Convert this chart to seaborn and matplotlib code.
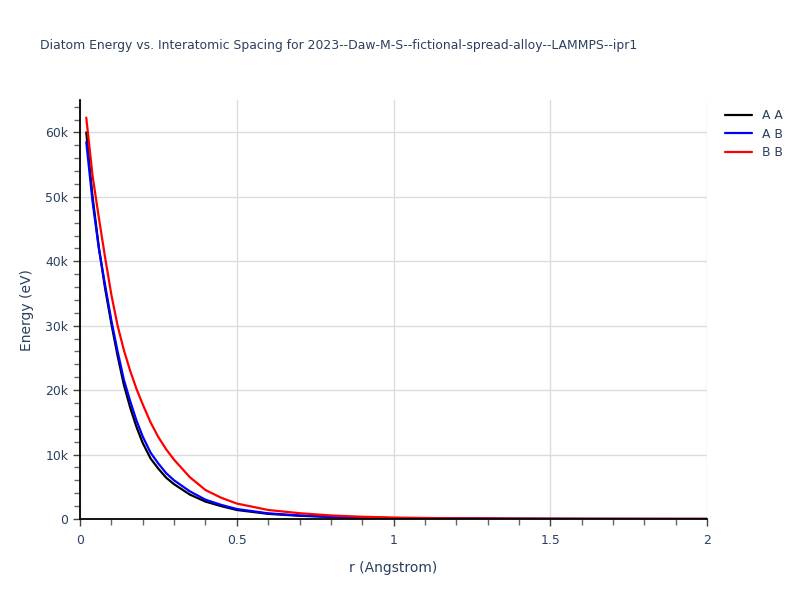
import seaborn as sns
import matplotlib.pyplot as plt
import pandas as pd
from matplotlib.ticker import FuncFormatter, MultipleLocator

# Distances (Angstrom) and pair energies (eV)
r = [0.02, 0.04, 0.06, 0.08, 0.10, 0.12, 0.14, 0.16, 0.18, 0.20, 0.225, 0.25,
     0.275, 0.30, 0.35, 0.40, 0.45, 0.50, 0.60, 0.70, 0.80, 0.90, 1.0, 1.2,
     1.4, 1.6, 1.8, 2.0]
energy_aa = [60000, 50000, 42200, 35800, 30300, 25300, 20800, 17300, 14300,
             11800, 9400, 7800, 6400, 5400, 3800, 2700, 2000, 1400, 800, 500,
             320, 200, 130, 60, 30, 15, 8, 5]
energy_ab = [58500, 49300, 42000, 36300, 30800, 26000, 21600, 18300, 15300,
             12800, 10300, 8600, 7100, 6000, 4300, 3000, 2200, 1550, 880, 550,
             350, 220, 150, 70, 35, 18, 10, 6]
energy_bb = [62300, 53300, 46800, 40600, 34800, 30000, 26200, 23000, 20200,
             17800, 15000, 12700, 10800, 9200, 6500, 4500, 3300, 2400, 1400,
             900, 550, 350, 220, 100, 50, 25, 13, 8]
pairs = ["A A", "A B", "B B"]
colors = ["black", "blue", "red"]

df = pd.concat([
    pd.DataFrame({"r": r, "energy": e, "pair": p})
    for p, e in zip(pairs, [energy_aa, energy_ab, energy_bb])
])

sns.set_style("white")
plt.rcParams["font.family"] = ["DejaVu Sans"]
text_col = "#2a3f5f"

fig = plt.figure(figsize=(8, 6), dpi=100)
ax = fig.add_axes([0.1, 0.135, 0.784, 0.698])
sns.lineplot(data=df, x="r", y="energy", hue="pair", palette=colors,
             linewidth=1.6, ax=ax)

ax.set_xlim(0, 2)
ax.set_ylim(0, 65000)
ax.xaxis.set_major_locator(MultipleLocator(0.5))
ax.xaxis.set_minor_locator(MultipleLocator(0.1))
ax.yaxis.set_major_locator(MultipleLocator(10000))
ax.yaxis.set_minor_locator(MultipleLocator(2000))
ax.xaxis.set_major_formatter(FuncFormatter(lambda v, p: f"{v:g}"))
ax.yaxis.set_major_formatter(FuncFormatter(lambda v, p: "0" if v == 0 else f"{v/1000:g}k"))
ax.grid(True, which="major", color="#dcdcdc", linewidth=1)
ax.set_axisbelow(True)

for s in ["top", "right"]:
    ax.spines[s].set_visible(False)
for s in ["left", "bottom"]:
    ax.spines[s].set_color("black")
    ax.spines[s].set_linewidth(1.3)

ax.tick_params(which="major", direction="out", length=5, width=1, color="#444444",
               labelsize=8.9, labelcolor=text_col, left=True, bottom=True)
ax.tick_params(which="minor", direction="out", length=4, width=1, color="#666666",
               left=True, bottom=True)
ax.tick_params(axis="x", pad=6)

ax.set_xlabel("r (Angstrom)", fontsize=10, color=text_col, labelpad=10)
ax.set_ylabel("Energy (eV)", fontsize=10, color=text_col, labelpad=8)

fig.text(0.05, 0.924, "Diatom Energy vs. Interatomic Spacing for "
         "2023--Daw-M-S--fictional-spread-alloy--LAMMPS--ipr1",
         fontsize=8.9, color=text_col, va="center")

leg = ax.legend(loc="upper left", bbox_to_anchor=(1.01, 1.005), frameon=False,
                fontsize=8.9, handlelength=2.2, labelspacing=0.45)
for t in leg.get_texts():
    t.set_color(text_col)

fig.savefig("out.png", dpi=100)
